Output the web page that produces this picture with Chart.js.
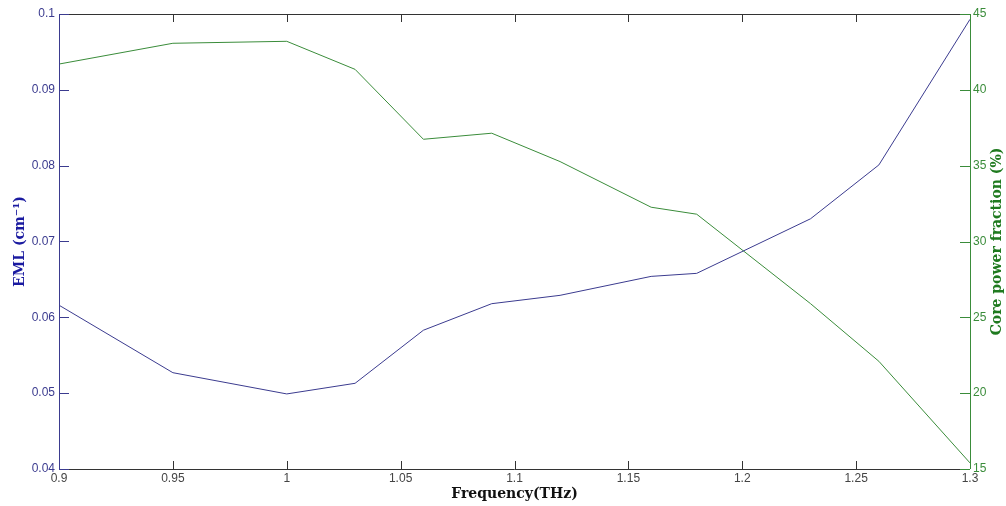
<!DOCTYPE html>
<html>
<head>
<meta charset="utf-8">
<script src="https://cdn.jsdelivr.net/npm/chart.js@4/dist/chart.umd.min.js"></script>
<style>
html,body{margin:0;padding:0;background:#fff;}
#wrap{width:1006px;height:506px;position:relative;}
</style>
</head>
<body>
<div id="wrap"><canvas id="c" width="1006" height="506"></canvas></div>
<script>
const frequency = [0.9, 0.95, 1.0, 1.03, 1.06, 1.09, 1.12, 1.16, 1.18, 1.23, 1.26, 1.3];
const eml = [0.0616, 0.0527, 0.0499, 0.0513, 0.0583, 0.0618, 0.0629, 0.0654, 0.0658, 0.0730, 0.0801, 0.0993];
const corePower = [41.7, 43.07, 43.2, 41.35, 36.74, 37.14, 35.27, 32.26, 31.8, 25.9, 22.1, 15.4];
const xTicks = [0.9, 0.95, 1, 1.05, 1.1, 1.15, 1.2, 1.25, 1.3];
const yLeftTicks = [0.04, 0.05, 0.06, 0.07, 0.08, 0.09, 0.1];
const yRightTicks = [15, 20, 25, 30, 35, 40, 45];

const BLUE = '#3b3b8f';
const GREEN = '#3a8c3a';
const TICKFONT = {family: '"Liberation Sans", Arial, sans-serif', size: 12};

const boxPlugin = {
  id: 'matlabBox',
  afterDatasetsDraw(chart) {
    const ctx = chart.ctx;
    const a = chart.chartArea;
    const x = chart.scales.x, yl = chart.scales.y, yr = chart.scales.y1;
    ctx.save();
    ctx.lineWidth = 1;
    ctx.strokeStyle = '#333';
    ctx.beginPath();
    xTicks.forEach(v => {
      const px = Math.round(x.getPixelForValue(v)) + 0.5;
      ctx.moveTo(px, a.bottom); ctx.lineTo(px, a.bottom - 8);
      ctx.moveTo(px, a.top); ctx.lineTo(px, a.top + 8);
    });
    ctx.stroke();
    ctx.beginPath();
    ctx.moveTo(a.left, Math.round(a.top) + 0.5); ctx.lineTo(a.right, Math.round(a.top) + 0.5);
    ctx.moveTo(a.left, Math.round(a.bottom) + 0.5); ctx.lineTo(a.right, Math.round(a.bottom) + 0.5);
    ctx.stroke();
    ctx.strokeStyle = BLUE;
    ctx.beginPath();
    const lx = Math.round(a.left) + 0.5;
    ctx.moveTo(lx, a.top); ctx.lineTo(lx, a.bottom);
    yLeftTicks.forEach(v => {
      const py = Math.round(yl.getPixelForValue(v)) + 0.5;
      ctx.moveTo(a.left, py); ctx.lineTo(a.left + 10, py);
    });
    ctx.stroke();
    ctx.strokeStyle = GREEN;
    ctx.beginPath();
    const rx = Math.round(a.right) + 0.5;
    ctx.moveTo(rx, a.top); ctx.lineTo(rx, a.bottom);
    yRightTicks.forEach(v => {
      const py = Math.round(yr.getPixelForValue(v)) + 0.5;
      ctx.moveTo(a.right, py); ctx.lineTo(a.right - 10, py);
    });
    ctx.stroke();
    ctx.fillStyle = '#1f7a1f';
    ctx.font = 'bold 14px "DejaVu Serif", serif';
    ctx.textAlign = 'center';
    ctx.textBaseline = 'middle';
    ctx.translate(997, (a.top + a.bottom) / 2);
    ctx.rotate(-Math.PI / 2);
    ctx.fillText('Core power fraction (%)', 0, 0);
    ctx.restore();
  }
};

new Chart(document.getElementById('c'), {
  type: 'line',
  data: {
    datasets: [
      {
        label: 'EML',
        data: frequency.map((f, i) => ({x: f, y: eml[i]})),
        borderColor: BLUE,
        borderWidth: 1,
        pointRadius: 0,
        tension: 0,
        yAxisID: 'y'
      },
      {
        label: 'Core power fraction',
        data: frequency.map((f, i) => ({x: f, y: corePower[i]})),
        borderColor: GREEN,
        borderWidth: 1,
        pointRadius: 0,
        tension: 0,
        yAxisID: 'y1'
      }
    ]
  },
  options: {
    responsive: false,
    animation: false,
    layout: {padding: {top: 14, left: 0, right: 0, bottom: 0}},
    plugins: {legend: {display: false}, tooltip: {enabled: false}},
    scales: {
      x: {
        type: 'linear',
        min: 0.9, max: 1.3,
        afterBuildTicks(s) { s.ticks = xTicks.map(v => ({value: v})); },
        afterFit(s) { s.height = 37; },
        grid: {display: false, drawTicks: false},
        border: {display: false},
        ticks: {
          color: '#444', font: TICKFONT, padding: 2, maxRotation: 0,
          callback: v => String(v)
        },
        title: {
          display: true, text: 'Frequency(THz)', color: '#111',
          font: {family: '"DejaVu Serif", serif', size: 14, weight: 'bold'},
          padding: {top: 0, bottom: 3}
        }
      },
      y: {
        type: 'linear', position: 'left',
        min: 0.04, max: 0.1,
        afterBuildTicks(s) { s.ticks = yLeftTicks.map(v => ({value: v})); },
        afterFit(s) { s.width = 59; },
        grid: {display: false, drawTicks: false},
        border: {display: false},
        ticks: {color: BLUE, font: TICKFONT, padding: 4, callback: v => String(+v.toFixed(2))},
        title: {
          display: true, text: 'EML (cm\u207B\u00B9)', color: '#1a1aa0',
          font: {family: '"DejaVu Serif", serif', size: 14, weight: 'bold'},
          padding: {top: 12, bottom: 0}
        }
      },
      y1: {
        type: 'linear', position: 'right',
        min: 15, max: 45,
        afterBuildTicks(s) { s.ticks = yRightTicks.map(v => ({value: v})); },
        afterFit(s) { s.width = 36; },
        grid: {display: false, drawTicks: false},
        border: {display: false},
        ticks: {color: GREEN, font: TICKFONT, padding: 3, callback: v => String(v)},
        title: {display: false}
      }
    }
  },
  plugins: [boxPlugin]
});
</script>
</body>
</html>
